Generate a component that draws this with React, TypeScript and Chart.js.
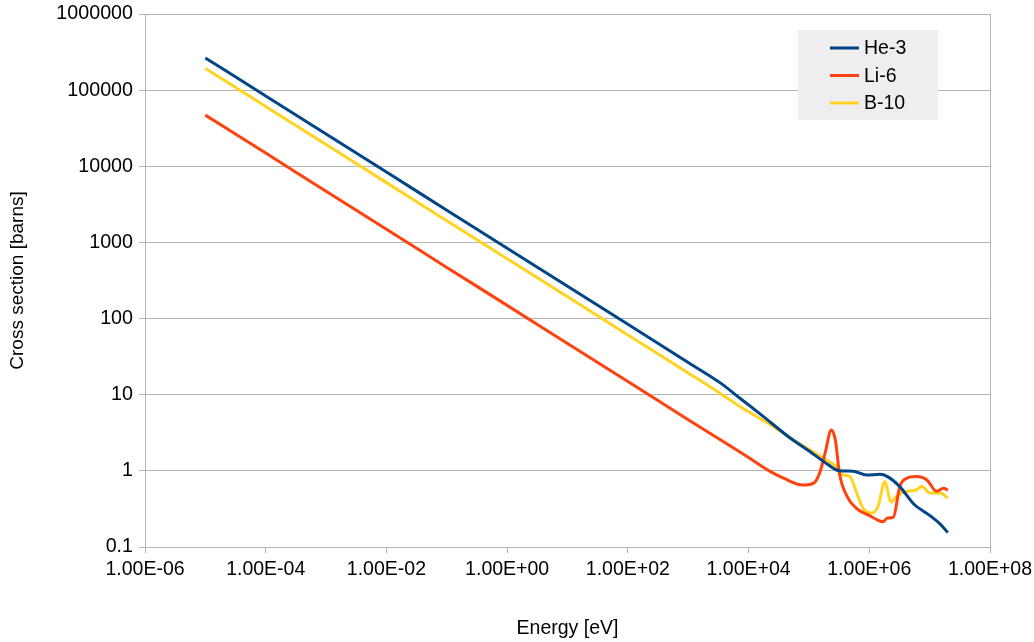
import React, { useEffect, useRef } from "react";
import { Chart, registerables } from "chart.js";

Chart.register(...registerables);

const seriesNames = ["He-3", "Li-6", "B-10"];
const seriesColors = ["#004586", "#ff420e", "#ffd320"];

const heEnergy = [1e-5, 1e-4, 1e-3, 1e-2, 1e-1, 1, 10, 100, 1000, 3400, 7200, 1.55e4, 4.9e4, 1.05e5, 1.95e5, 3.2e5, 5.4e5, 9e5, 1.5e6, 2e6, 3.2e6, 5.4e6, 1e7, 1.5e7, 2e7];
const heSigma = [265000, 84000, 26500, 8400, 2650, 840, 265, 84, 26.5, 14.3, 9.0, 5.6, 2.7, 1.78, 1.25, 1.0, 0.99, 0.88, 0.9, 0.84, 0.62, 0.37, 0.26, 0.2, 0.155];

const liEnergy = [1e-5, 1e-4, 1e-3, 1e-2, 1e-1, 1, 10, 100, 1000, 1e4, 2.2e4, 3.8e4, 8e4, 1.2e5, 1.5e5, 1.85e5, 2.35e5, 2.75e5, 3.2e5, 4.3e5, 6.2e5, 1e6, 1.7e6, 2e6, 2.5e6, 3.2e6, 4.2e6, 6e6, 9e6, 1.3e7, 1.7e7, 2e7];
const liSigma = [47000, 14900, 4700, 1490, 470, 149, 47, 14.9, 4.7, 1.5, 1.0, 0.8, 0.65, 0.69, 0.93, 1.7, 3.43, 2.5, 0.93, 0.46, 0.32, 0.26, 0.215, 0.24, 0.245, 0.62, 0.8, 0.84, 0.76, 0.54, 0.59, 0.56];

const bEnergy = [1e-5, 1e-4, 1e-3, 1e-2, 1e-1, 1, 10, 100, 1000, 3400, 7200, 2.6e4, 4.9e4, 1.05e5, 1.95e5, 2.9e5, 3.5e5, 4.8e5, 6.2e5, 8e5, 1.1e6, 1.4e6, 1.8e6, 2.3e6, 2.8e6, 4.2e6, 6e6, 7.4e6, 1e7, 1.5e7, 2e7];
const bSigma = [193000, 61000, 19300, 6100, 1930, 610, 193, 61, 19.3, 10.4, 7.0, 3.8, 2.7, 1.88, 1.38, 1.12, 0.9, 0.84, 0.51, 0.32, 0.28, 0.34, 0.72, 0.39, 0.46, 0.54, 0.56, 0.63, 0.51, 0.51, 0.44];

const xTickValues = [1e-6, 1e-4, 1e-2, 1, 1e2, 1e4, 1e6, 1e8];
const xTickLabels = ["1.00E-06", "1.00E-04", "1.00E-02", "1.00E+00", "1.00E+02", "1.00E+04", "1.00E+06", "1.00E+08"];
const yTickValues = [0.1, 1, 10, 100, 1000, 10000, 100000, 1000000];
const yTickLabels = ["0.1", "1", "10", "100", "1000", "10000", "100000", "1000000"];

const xTitle = "Energy [eV]";
const yTitle = "Cross section [barns]";

const FONT = "'Liberation Sans', Arial, sans-serif";
const GRID = "#b3b3b3";

const toPoints = (xs: number[], ys: number[]) => xs.map((x, i) => ({ x, y: ys[i] }));

const frameAndLegend = {
  id: "frameAndLegend",
  afterDraw(chart: any) {
    const { ctx, chartArea } = chart;
    ctx.save();
    ctx.strokeStyle = GRID;
    ctx.lineWidth = 1;
    ctx.beginPath();
    ctx.moveTo(Math.round(chartArea.right) + 0.5, chartArea.top);
    ctx.lineTo(Math.round(chartArea.right) + 0.5, chartArea.bottom);
    ctx.stroke();

    const bx = chartArea.right - 192;
    const by = chartArea.top + 16;
    ctx.fillStyle = "#eeeeee";
    ctx.fillRect(bx, by, 140, 90);
    chart.data.datasets.forEach((ds: any, i: number) => {
      const y = by + 18 + i * 27.5;
      ctx.strokeStyle = ds.borderColor;
      ctx.lineWidth = 3;
      ctx.beginPath();
      ctx.moveTo(bx + 32, y);
      ctx.lineTo(bx + 61, y);
      ctx.stroke();
      ctx.fillStyle = "#000000";
      ctx.font = `19.5px ${FONT}`;
      ctx.textBaseline = "middle";
      ctx.textAlign = "left";
      ctx.fillText(ds.label, bx + 66, y + 1);
    });
    ctx.restore();
  },
};

export default function App() {
  const ref = useRef<HTMLCanvasElement | null>(null);
  useEffect(() => {
    if (!ref.current) return;
    const allE = [heEnergy, liEnergy, bEnergy];
    const allS = [heSigma, liSigma, bSigma];
    const chart = new Chart(ref.current, {
      type: "scatter",
      data: {
        datasets: seriesNames.map((name, i) => ({
          label: name,
          data: toPoints(allE[i], allS[i]),
          showLine: true,
          borderColor: seriesColors[i],
          backgroundColor: seriesColors[i],
          borderWidth: 3,
          pointRadius: 0,
          cubicInterpolationMode: "monotone" as const,
        })),
      },
      options: {
        animation: false,
        responsive: false,
        layout: { padding: { top: 14, right: 44, left: 0, bottom: 0 } },
        plugins: { legend: { display: false }, tooltip: { enabled: false } },
        scales: {
          x: {
            type: "logarithmic",
            min: 1e-6,
            max: 1e8,
            afterBuildTicks: (scale: any) => {
              scale.ticks = xTickValues.map((v) => ({ value: v }));
            },
            afterFit: (scale: any) => {
              scale.height = 95;
              scale.paddingLeft = 0;
              scale.paddingRight = 0;
            },
            ticks: {
              autoSkip: false,
              maxRotation: 0,
              padding: 5,
              color: "#000000",
              font: { family: FONT, size: 19.5 },
              callback: (_v: any, i: number) => xTickLabels[i],
            },
            grid: { drawOnChartArea: false, drawTicks: true, tickLength: 6, color: GRID },
            border: { display: true, color: GRID },
            title: {
              display: true,
              text: xTitle,
              color: "#000000",
              font: { family: FONT, size: 19.5 },
              padding: { top: 0, bottom: 2 },
            },
          },
          y: {
            type: "logarithmic",
            min: 0.1,
            max: 1e6,
            afterBuildTicks: (scale: any) => {
              scale.ticks = yTickValues.map((v) => ({ value: v }));
            },
            afterFit: (scale: any) => {
              scale.width = 145;
              scale.paddingTop = 0;
              scale.paddingBottom = 0;
            },
            ticks: {
              autoSkip: false,
              padding: 6,
              color: "#000000",
              font: { family: FONT, size: 19.7 },
              callback: (_v: any, i: number) => yTickLabels[i],
            },
            grid: { drawTicks: true, tickLength: 6, color: GRID },
            border: { display: true, color: GRID },
            title: {
              display: true,
              text: yTitle,
              color: "#000000",
              font: { family: FONT, size: 19 },
              padding: { top: 6, bottom: 0 },
            },
          },
        },
      },
      plugins: [frameAndLegend],
    } as any);
    return () => chart.destroy();
  }, []);
  return (
    <div style={{ position: "fixed", left: 0, top: 0, width: 1034, height: 642, background: "#ffffff" }}>
      <canvas ref={ref} width={1034} height={642} style={{ display: "block" }} />
    </div>
  );
}
